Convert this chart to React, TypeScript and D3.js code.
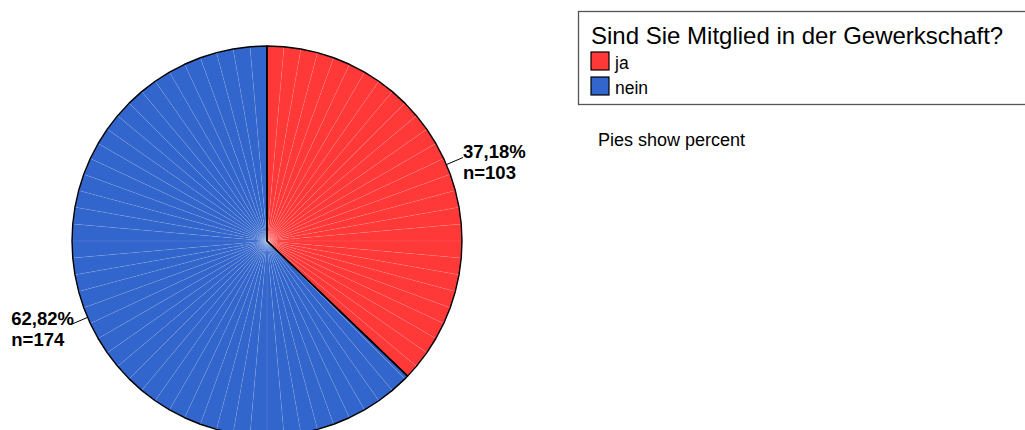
import React, { useEffect, useRef } from "react";
import * as d3 from "d3";

const categories = ["ja", "nein"];
const counts = [103, 174];
const percentLabels = ["37,18%", "62,82%"];
const countLabels = ["n=103", "n=174"];
const colors = ["#ff3838", "#3366cc"];
const legendTitle = "Sind Sie Mitglied in der Gewerkschaft?";
const note = "Pies show percent";

const W = 1025;
const H = 430;
const FONT = "'Liberation Sans', Arial, Helvetica, sans-serif";

export default function App() {
  const ref = useRef<SVGSVGElement | null>(null);

  useEffect(() => {
    document.body.style.margin = "0";
    const svg = d3.select(ref.current);
    svg.selectAll("*").remove();

    const cx = 267;
    const cy = 241;
    const r = 195;
    const step = (5 * Math.PI) / 180;

    const pie = d3.pie<number>().sort(null).startAngle(0).endAngle(2 * Math.PI);
    const arcs = pie(counts);

    const pt = (a: number, rr: number) => [cx + rr * Math.sin(a), cy - rr * Math.cos(a)];

    const anglesOf = (arc: d3.PieArcDatum<number>) => {
      const angles: number[] = [arc.startAngle];
      let a = Math.ceil(arc.startAngle / step + 1e-9) * step;
      while (a < arc.endAngle - 1e-9) {
        angles.push(a);
        a += step;
      }
      angles.push(arc.endAngle);
      return angles;
    };

    const g = svg.append("g");

    arcs.forEach((arc, i) => {
      const angles = anglesOf(arc);
      for (let k = 0; k < angles.length - 1; k++) {
        const p1 = pt(angles[k], r);
        const p2 = pt(angles[k + 1], r);
        g.append("path")
          .attr("d", `M${cx},${cy}L${p1[0]},${p1[1]}L${p2[0]},${p2[1]}Z`)
          .attr("fill", colors[i]);
      }
      for (let k = 1; k < angles.length - 1; k++) {
        const p = pt(angles[k], r);
        g.append("line")
          .attr("x1", cx).attr("y1", cy)
          .attr("x2", p[0]).attr("y2", p[1])
          .attr("stroke", "#ffffff")
          .attr("stroke-opacity", 0.14)
          .attr("stroke-width", 0.7);
      }
    });

    arcs.forEach((arc) => {
      const pts = anglesOf(arc).map((an) => pt(an, r));
      g.append("path")
        .attr("d", `M${cx},${cy}` + pts.map((p) => `L${p[0]},${p[1]}`).join("") + "Z")
        .attr("fill", "none")
        .attr("stroke", "#000")
        .attr("stroke-width", 1.4)
        .attr("stroke-linejoin", "round");
    });

    arcs.forEach((arc, i) => {
      const mid = (arc.startAngle + arc.endAngle) / 2;
      const p0 = pt(mid, r);
      const p1 = pt(mid, r + 18);
      g.append("line")
        .attr("x1", p0[0]).attr("y1", p0[1])
        .attr("x2", p1[0]).attr("y2", p1[1])
        .attr("stroke", "#000")
        .attr("stroke-width", 1);
      const right = Math.sin(mid) >= 0;
      const t1 = g.append("text")
        .attr("font-family", FONT)
        .attr("font-weight", "bold")
        .attr("font-size", 18.5)
        .attr("fill", "#000")
        .text(percentLabels[i]);
      const w = (t1.node() as SVGTextElement).getComputedTextLength();
      const x = right ? p1[0] : p1[0] + 3 - w;
      const y = right ? p1[1] : p1[1] + 1;
      t1.attr("x", x).attr("y", y);
      g.append("text")
        .attr("font-family", FONT)
        .attr("font-weight", "bold")
        .attr("font-size", 18.5)
        .attr("fill", "#000")
        .attr("x", x)
        .attr("y", y + 21)
        .text(countLabels[i]);
    });

    const lg = svg.append("g");
    lg.append("rect")
      .attr("x", 578.5).attr("y", 11.5)
      .attr("width", 480).attr("height", 93)
      .attr("fill", "#fff")
      .attr("stroke", "#555")
      .attr("stroke-width", 1.3);
    lg.append("text")
      .attr("x", 591).attr("y", 43.5)
      .attr("font-family", FONT)
      .attr("font-size", 24)
      .attr("fill", "#000")
      .text(legendTitle);
    categories.forEach((c, i) => {
      const y0 = 52 + i * 25;
      lg.append("rect")
        .attr("x", 591).attr("y", y0)
        .attr("width", 18).attr("height", 18)
        .attr("fill", colors[i])
        .attr("stroke", "#000")
        .attr("stroke-width", 1.2);
      lg.append("text")
        .attr("x", 615).attr("y", y0 + 17)
        .attr("font-family", FONT)
        .attr("font-size", 17.5)
        .attr("fill", "#000")
        .text(c);
    });

    svg.append("text")
      .attr("x", 598).attr("y", 146)
      .attr("font-family", FONT)
      .attr("font-size", 18)
      .attr("fill", "#000")
      .text(note);
  }, []);

  return (
    <svg
      ref={ref}
      width={W}
      height={H}
      style={{ position: "absolute", left: 0, top: 0, background: "#fff" }}
    />
  );
}
